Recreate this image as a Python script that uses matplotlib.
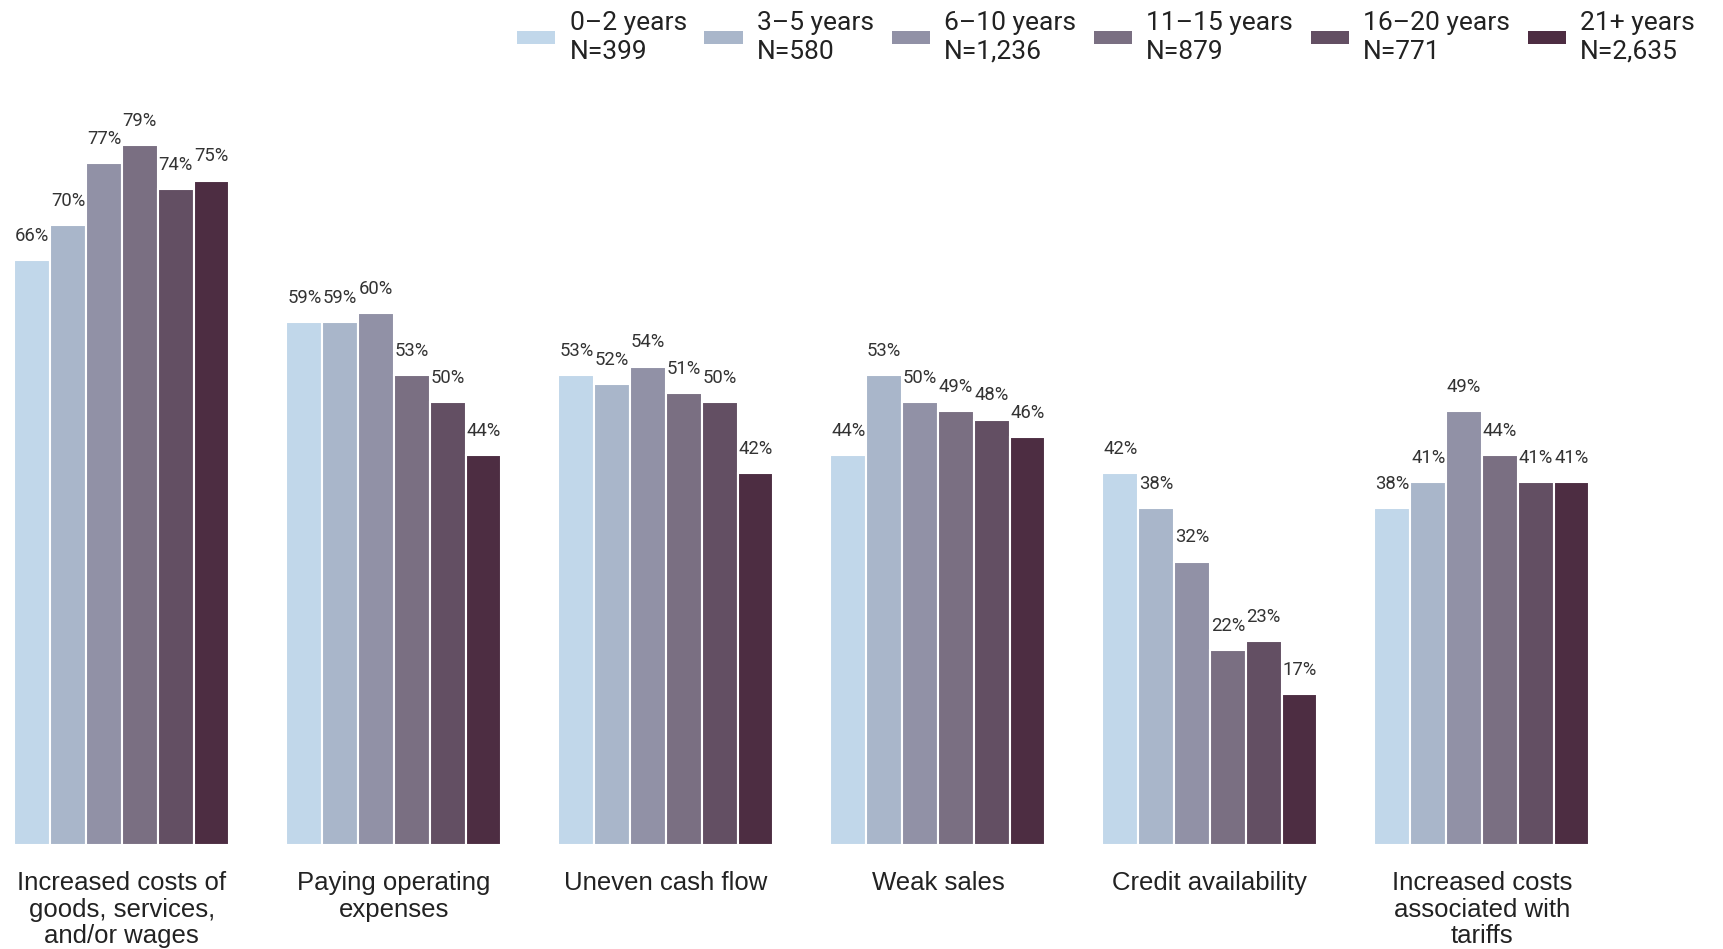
import matplotlib
matplotlib.use("Agg")
import matplotlib.pyplot as plt
from matplotlib.patches import Rectangle
from matplotlib.legend_handler import HandlerPatch
import numpy as np

categories = ["Increased costs of\ngoods, services,\nand/or wages",
              "Paying operating\nexpenses",
              "Uneven cash flow",
              "Weak sales",
              "Credit availability",
              "Increased costs\nassociated with\ntariffs"]
series_names = ["0\u20132 years\nN=399", "3\u20135 years\nN=580", "6\u201310 years\nN=1,236",
                "11\u201315 years\nN=879", "16\u201320 years\nN=771", "21+ years\nN=2,635"]
values = [
    [66, 59, 53, 44, 42, 38],
    [70, 59, 52, 53, 38, 41],
    [77, 60, 54, 50, 32, 49],
    [79, 53, 51, 49, 22, 44],
    [74, 50, 50, 48, 23, 41],
    [75, 44, 42, 46, 17, 41],
]
colors = ["#c1d7ea", "#a9b6ca", "#9191a6", "#7a6f82", "#634f63", "#4d2d42"]

fig = plt.figure(figsize=(17.24, 9.49), dpi=100)
ax = fig.add_axes([0, 104/949, 1, 753/949])

x = np.arange(len(categories))
w = 0.1317
n = len(series_names)
for i, (name, vals, c) in enumerate(zip(series_names, values, colors)):
    pos = x + (i - (n - 1) / 2) * w
    bars = ax.bar(pos, vals, width=w, color=c, edgecolor="white", linewidth=1.5, label=name)
    for b, v in zip(bars, vals):
        ax.annotate(f"{v}%", (b.get_x() + b.get_width() / 2, v), xytext=(0, 11),
                    textcoords="offset points", ha="center", va="bottom",
                    fontsize=13.3, family="Roboto", color="#333333")

ax.set_xlim(-0.448, 5.89)
ax.set_ylim(0, 85)
ax.set_yticks([])
ax.set_xticks(x)
ax.set_xticklabels(categories, fontsize=18.5, family="Liberation Sans", color="#222222",
                   linespacing=1.13, va="top")
ax.tick_params(axis="x", length=0, pad=19)
for s in ax.spines.values():
    s.set_visible(False)


def shifted_patch(legend, orig_handle, xdescent, ydescent, width, height, fontsize):
    return Rectangle((-xdescent, -ydescent - 8.0), width, height)


leg = fig.legend(loc="upper right", bbox_to_anchor=(0.997, 1.0134), ncol=6, frameon=False,
                 prop={"family": "Roboto", "size": 19}, handlelength=1.45, handleheight=0.42,
                 handletextpad=0.54, columnspacing=0.67, labelcolor="#222222",
                 handler_map={Rectangle: HandlerPatch(patch_func=shifted_patch)})
for t in leg.get_texts():
    t.set_linespacing(1.25)
for h in leg.legend_handles:
    h.set_edgecolor("none")

fig.savefig("out.png", dpi=100)
